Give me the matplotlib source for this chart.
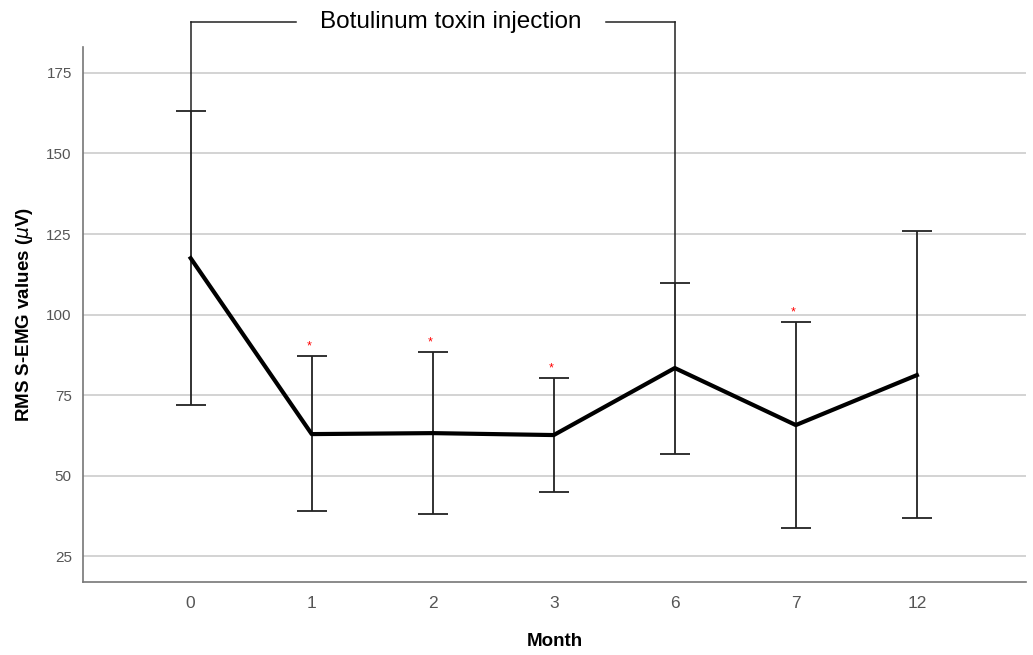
import matplotlib.pyplot as plt

plt.rcParams['font.family'] = ['Liberation Sans', 'DejaVu Sans']

months = ['0', '1', '2', '3', '6', '7', '12']
means = [117.5, 62.9, 63.2, 62.6, 83.4, 65.7, 81.2]
upper = [163.3, 87.1, 88.4, 80.3, 109.8, 97.7, 126.0]
lower = [71.9, 39.0, 38.0, 44.9, 56.7, 33.7, 36.8]
significant = [False, True, True, True, False, True, False]
yticks = [25, 50, 75, 100, 125, 150, 175]

# injection bracket spans month 0 to month 6
inj_start, inj_end = 0, 4

fig = plt.figure(figsize=(10.33, 6.55), dpi=100)
ax = fig.add_axes([0.0803, 0.1115, 0.9127, 0.8165])

x = list(range(len(months)))
err = [[m - lo for m, lo in zip(means, lower)], [up - m for m, up in zip(means, upper)]]

ax.errorbar(x, means, yerr=err, fmt='none', ecolor='#222222', elinewidth=1.3,
            capsize=10.5, capthick=1.3, zorder=3)
ax.plot(x, means, color='black', lw=3, zorder=4)

for xi, up, sig in zip(x, upper, significant):
    if sig:
        ax.text(xi - 0.02, up + 1.2, '*', color='red', fontsize=9, ha='center', va='bottom')

ax.set_xlim(-0.89, 6.9)
ax.set_ylim(17, 183)
ax.set_xticks(x)
ax.set_xticklabels(months)
ax.set_yticks(yticks)
ax.yaxis.grid(True, color='#cccccc', lw=1.2)
ax.set_axisbelow(True)
ax.tick_params(length=0, colors='#555555', labelsize=11)
ax.tick_params(axis='x', pad=10, labelsize=12.5)
ax.tick_params(axis='y', pad=8)

for s in ['top', 'right']:
    ax.spines[s].set_visible(False)
for s in ['left', 'bottom']:
    ax.spines[s].set_color('#777777')
    ax.spines[s].set_linewidth(1.2)

ax.set_ylabel(r'RMS S-EMG values ($\mu$V)', fontsize=13.5, fontweight='bold', labelpad=8)
ax.set_xlabel('Month', fontsize=13.5, fontweight='bold', labelpad=16)

# bracket
top_y = 190.8
br = dict(color='#222222', lw=1.1, clip_on=False)
ax.plot([inj_start, inj_start], [upper[inj_start], top_y], **br)
ax.plot([inj_end, inj_end], [upper[inj_end], top_y], **br)
ax.plot([inj_start, 0.87], [top_y, top_y], **br)
ax.plot([3.43, inj_end], [top_y, top_y], **br)
ax.text(2.15, top_y, 'Botulinum toxin injection', fontsize=17.5, ha='center', va='center')

fig.savefig('out.png', dpi=100)
